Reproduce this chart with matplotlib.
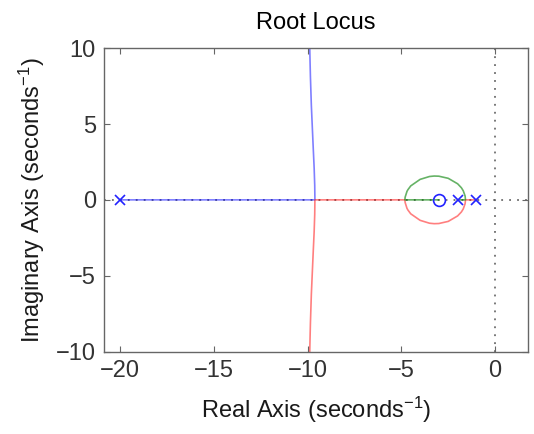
import matplotlib
matplotlib.use('Agg')
import matplotlib.pyplot as plt

plt.rcParams['font.family'] = ['Liberation Sans', 'DejaVu Sans']
plt.rcParams['mathtext.default'] = 'regular'

# open loop poles / zero
poles = [-20, -2, -1]
zeros = [-3]

# branch from pole -20 (goes right, then up)
blue_x = [-20, -9.61, -9.62, -9.65, -9.70, -9.80, -9.85, -9.88, -9.89]
blue_y = [0, 0, 0.96, 2.09, 3.43, 6.23, 8.15, 9.71, 10.35]

# branch from pole -1 (lower half of loop, then down)
red_x = [-1, -1.58, -1.60, -1.70, -1.80, -2.0, -2.5, -3.0, -3.25, -3.5, -4.0,
         -4.5, -4.65, -4.70, -4.80, -4.81, -9.61, -9.62, -9.65, -9.70, -9.80,
         -9.85, -9.88, -9.89]
red_y = [0, 0, -0.25, -0.60, -0.80, -1.06, -1.42, -1.56, -1.57, -1.54, -1.35,
         -0.92, -0.67, -0.56, -0.17, 0, 0, -0.96, -2.09, -3.43, -6.23,
         -8.15, -9.71, -10.35]

# branch from pole -2 (upper half of loop, ends on the zero)
green_x = [-2, -1.58, -1.60, -1.70, -1.80, -2.0, -2.5, -3.0, -3.25, -3.5, -4.0,
           -4.5, -4.65, -4.70, -4.80, -4.81, -3]
green_y = [0, 0, 0.25, 0.60, 0.80, 1.06, 1.42, 1.56, 1.57, 1.54, 1.35,
           0.92, 0.67, 0.56, 0.17, 0, 0]

fig = plt.figure(figsize=(5.34, 4.34), dpi=100)
ax = fig.add_axes([0.195, 0.19, 0.794, 0.699])

ax.axhline(0, color='#555555', ls=(0, (1.2, 4)), lw=1.1, zorder=1)
ax.axvline(0, color='#555555', ls=(0, (1.2, 4)), lw=1.1, zorder=1)

ax.plot(blue_x, blue_y, color='#0000ff', lw=1.2, alpha=0.5, zorder=2)
ax.plot(red_x, red_y, color='#ff0000', lw=1.2, alpha=0.5, zorder=2)
ax.plot(green_x, green_y, color='#008000', lw=1.2, alpha=0.6, zorder=2)

ax.plot(poles, [0] * len(poles), ls='none', marker='x', color='#2222ff',
        ms=7, mew=1.2, zorder=3)
ax.plot(zeros, [0] * len(zeros), ls='none', marker='o', mfc='none',
        mec='#2222ff', ms=8.5, mew=1.2, zorder=3)

ax.set_xlim(-20.85, 1.76)
ax.set_ylim(-10, 10)
ax.set_xticks([-20, -15, -10, -5, 0])
ax.set_yticks([-10, -5, 0, 5, 10])

for s in ax.spines.values():
    s.set_color('#666666')
    s.set_linewidth(1.0)
ax.tick_params(direction='in', length=4, color='#666666', labelsize=17,
               labelcolor='#333333', top=True, right=True, pad=6)

ax.set_title('Root Locus', fontsize=17, pad=14)
ax.set_xlabel('Real Axis (seconds$^{-1}$)', fontsize=17, color='#1a1a1a',
              labelpad=9)
ax.set_ylabel('Imaginary Axis (seconds$^{-1}$)', fontsize=17, color='#1a1a1a',
              labelpad=6)

fig.savefig('out.png', dpi=100)
